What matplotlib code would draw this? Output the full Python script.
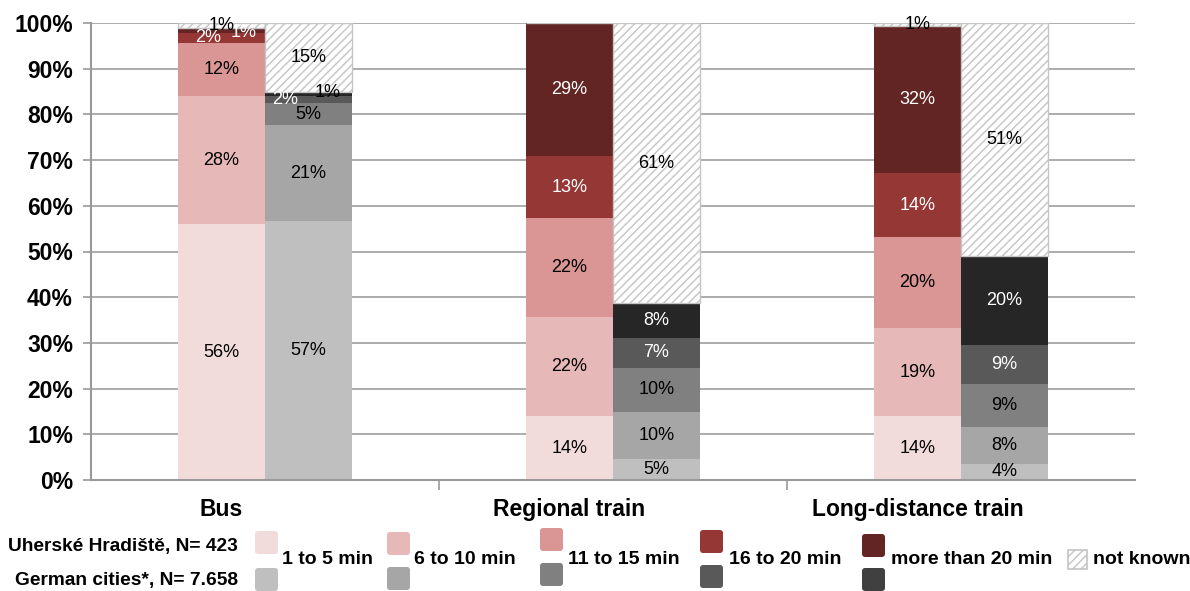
import numpy as np
import matplotlib
matplotlib.use("Agg")
import matplotlib.pyplot as plt
from matplotlib.patches import FancyBboxPatch, Rectangle

plt.rcParams['font.family'] = ['Liberation Sans', 'DejaVu Sans']
plt.rcParams['hatch.linewidth'] = 1.0

# Access time to the stop / station, share of respondents (%)
modes = ['Bus', 'Regional train', 'Long-distance train']
time_classes = ['1 to 5 min', '6 to 10 min', '11 to 15 min', '16 to 20 min',
                'more than 20 min', 'not known']

# Uherské Hradiště (N = 423), one row per mode
uh_share = [
    [56.0, 28.0, 11.6, 2.3, 1.0, 1.1],
    [13.9, 21.8, 21.7, 13.4, 29.2, 0.0],
    [13.9, 19.3, 20.0, 13.9, 32.3, 0.6],
]
# German cities (N = 7.658), one row per mode
de_share = [
    [56.6, 21.0, 4.9, 1.6, 0.8, 15.1],
    [4.7, 10.2, 9.6, 6.6, 7.6, 61.3],
    [3.6, 8.1, 9.2, 8.6, 19.6, 50.9],
]
series_names = ['Uherské Hradiště, N= 423', 'German cities*, N= 7.658']

uh_colors = ['#F2DCDB', '#E6B9B8', '#D99694', '#953735', '#632523', 'white']
de_colors = ['#BFBFBF', '#A6A6A6', '#808080', '#595959', '#262626', 'white']
uh_text = ['black', 'black', 'black', 'white', 'white', 'black']
de_text = ['black', 'black', 'black', 'white', 'white', 'black']
hatch_col = '#C4C4C4'

# nudges for labels of very thin segments: (mode, series, segment) -> (dx, dy, colour)
nudges = {
    (0, 0, 3): (-0.037, 0.0, None),
    (0, 0, 4): (0.063, -0.4, None),
    (0, 1, 3): (-0.066, 0.0, None),
    (0, 1, 4): (0.055, 0.3, 'black'),
}

W, H = 1190, 591
fig = plt.figure(figsize=(W / 100, H / 100), dpi=100)
ax = fig.add_axes([91 / W, 1 - 480 / H, (1135 - 91) / W, (480 - 23) / H])

x = np.arange(len(modes))
bw = 0.25
for si, (shares, colors, tcols) in enumerate([(uh_share, uh_colors, uh_text),
                                               (de_share, de_colors, de_text)]):
    xpos = x - bw / 2 if si == 0 else x + bw / 2
    data = np.array(shares)
    bottom = np.zeros(len(modes))
    for k in range(len(time_classes)):
        vals = data[:, k]
        if k == 5:
            ax.bar(xpos, vals, bw, bottom=bottom, color='white', edgecolor=hatch_col,
                   hatch='////', linewidth=1.0, zorder=2)
        else:
            ax.bar(xpos, vals, bw, bottom=bottom, color=colors[k], linewidth=0, zorder=2)
        for m in range(len(modes)):
            v = vals[m]
            if v <= 0:
                continue
            dx, dy, col = nudges.get((m, si, k), (0.0, 0.0, None))
            ax.text(xpos[m] + dx, bottom[m] + v / 2 + dy, f"{round(v):.0f}%",
                    ha='center', va='center', fontsize=13,
                    color=col or tcols[k], zorder=4, clip_on=False)
        bottom += vals

ax.set_xlim(-0.5, 2.5)
ax.set_ylim(0, 100)
ax.set_yticks(np.arange(0, 101, 10))
ax.set_yticklabels([f"{v}%" for v in range(0, 101, 10)], fontsize=16.5, fontweight='bold')
# category captions sit under the first bar of each group
ax.set_xticks(x - bw / 2)
ax.set_xticklabels(modes, fontsize=16.5, fontweight='bold')
ax.set_xticks([0.5, 1.5], minor=True)
ax.tick_params(axis='x', which='major', length=0, pad=13)
ax.tick_params(axis='x', which='minor', length=7, color='#999999', width=1.2)
ax.tick_params(axis='y', length=6, color='#999999', width=1.2, pad=7)
ax.grid(axis='y', color='#A6A6A6', linewidth=1.3)
ax.set_axisbelow(True)
for s in ['top', 'right']:
    ax.spines[s].set_visible(False)
for s in ['left', 'bottom']:
    ax.spines[s].set_color('#999999')
    ax.spines[s].set_linewidth(1.5)

# legend drawn by hand: two swatch rows per class, one caption between them
tr = fig.dpi_scale_trans


def px(xp, yp):
    return xp / 100, (H - yp) / 100


fig.text(238 / W, 1 - 547 / H, series_names[0], ha='right', va='center',
         fontsize=13.8, fontweight='bold')
fig.text(238 / W, 1 - 580 / H, series_names[1], ha='right', va='center',
         fontsize=13.8, fontweight='bold')

sw_left = [255, 387, 540, 700, 862]
txt_left = [282, 414, 568, 729, 891]
uh_top = [531, 532, 528, 530, 534]
de_top = [568, 567, 563, 565, 568]
size = 23
for k in range(5):
    for top, col in [(uh_top[k], uh_colors[k]), (de_top[k], de_colors[k] if k < 4 else '#404040')]:
        x0, y0 = px(sw_left[k], top + size)
        fig.patches.append(FancyBboxPatch((x0, y0), size / 100, size / 100,
                                          boxstyle='round,pad=0,rounding_size=0.03',
                                          facecolor=col, edgecolor='none', transform=tr))
    fig.text(txt_left[k] / W, 1 - 560 / H, time_classes[k], ha='left', va='center',
             fontsize=14, fontweight='bold')

x0, y0 = px(1068, 569)
fig.patches.append(Rectangle((x0, y0), 0.19, 0.19, facecolor='white', edgecolor=hatch_col,
                             hatch='////', linewidth=1.2, transform=tr))
fig.text(1093 / W, 1 - 560 / H, time_classes[5], ha='left', va='center',
         fontsize=14, fontweight='bold')

fig.savefig('out.png', dpi=100)
